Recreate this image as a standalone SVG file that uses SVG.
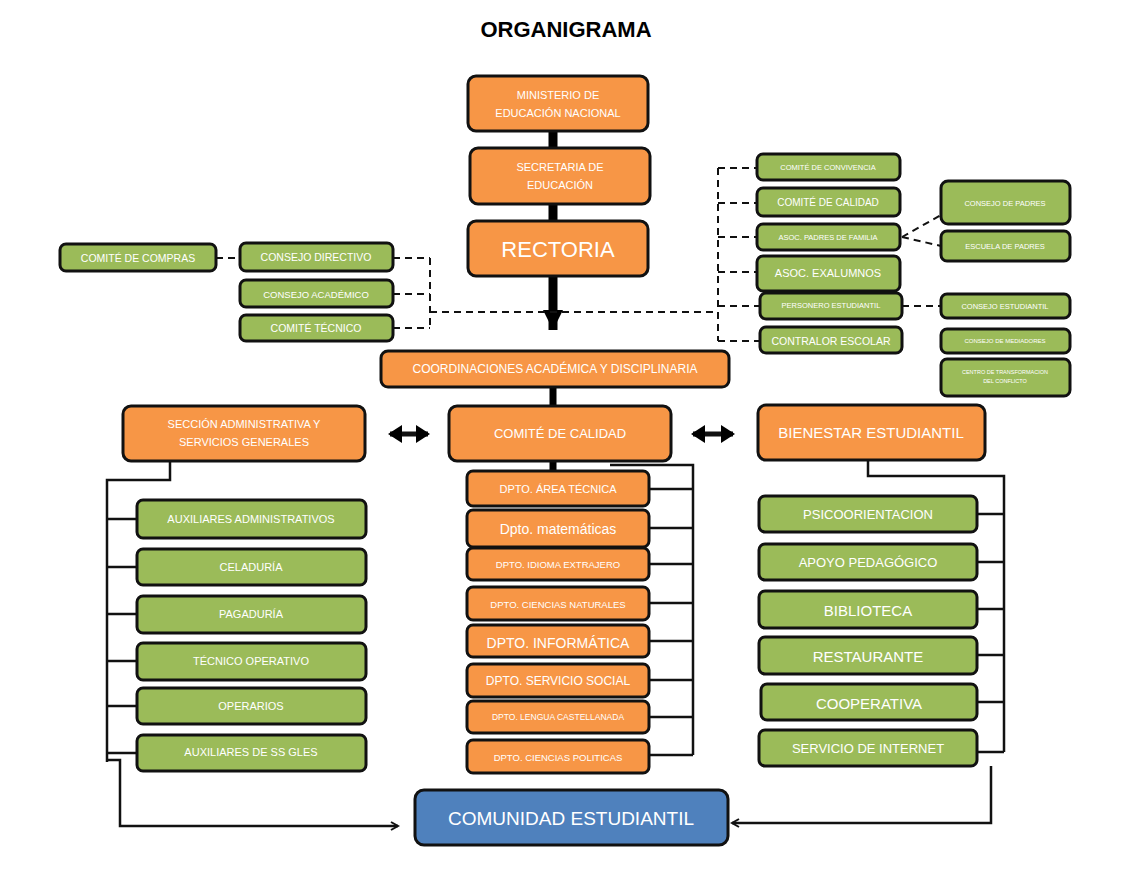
<svg xmlns="http://www.w3.org/2000/svg" width="1122" height="875" viewBox="0 0 1122 875">
<defs>
<style>
.o{fill:#f79646;stroke:#111;stroke-width:3}
.g{fill:#9bbb59;stroke:#111;stroke-width:3}
.b{fill:#4f81bd;stroke:#111;stroke-width:3}
text{font-family:"Liberation Sans",Arial,sans-serif;fill:#fff;text-anchor:middle;dominant-baseline:central}
.l{stroke:#111;stroke-width:2.5;fill:none}
.d{stroke:#111;stroke-width:2;fill:none;stroke-dasharray:7 5}
.t{stroke:#000;stroke-width:9;fill:none}
</style>
<marker id="ah" markerWidth="10" markerHeight="10" refX="8" refY="5" orient="auto" markerUnits="userSpaceOnUse"><path d="M1,1 L8,5 L1,9" fill="none" stroke="#111" stroke-width="2"/></marker>
<marker id="big" markerWidth="24" markerHeight="20" refX="20" refY="10" orient="auto" markerUnits="userSpaceOnUse"><path d="M0,0 L20,10 L0,20 Z" fill="#000"/></marker>
<marker id="dh" markerWidth="14" markerHeight="18" refX="12" refY="9" orient="auto-start-reverse" markerUnits="userSpaceOnUse"><path d="M0,0 L14,9 L0,18 Z" fill="#000"/></marker>
</defs>
<rect width="1122" height="875" fill="#fff"/>
<text x="566" y="29" style="fill:#000;font-weight:bold;font-size:22px">ORGANIGRAMA</text>

<g id="connectors">
<path class="t" d="M553,131 V148 M553,204 V221"/>
<path class="t" d="M553,276 V330" marker-end="url(#big)"/>
<path class="t" d="M553,387 V406 M553,461 V471" style="stroke-width:7"/>
<path class="l" d="M390,434 H428" style="stroke-width:5" marker-start="url(#dh)" marker-end="url(#dh)"/>
<path class="l" d="M693,434 H733" style="stroke-width:5" marker-start="url(#dh)" marker-end="url(#dh)"/>
<path class="d" d="M216,258 H240 M393,258 H430 M393,294 H430 M393,328 H430 M430,258 V328 M430,312 H718"/>
<path class="d" d="M718,168 V341 M718,168 H757 M718,203 H757 M718,237 H757 M718,272 H757 M718,306 H760 M718,341 H760"/>
<path class="d" d="M902,237 L941,215 M902,237 L941,246 M902,306 H941"/>
<path class="l" d="M170,461 V480 H107 V762 M107,519 H137 M107,567 H137 M107,614 H137 M107,661 H137 M107,706 H137 M107,753 H137 M107,760 H120 V826 H398" marker-end="url(#ah)"/>
<path class="l" d="M610,465 H693 V755 M649,489 H693 M649,528 H693 M649,564 H693 M649,603 H693 M649,641 H693 M649,680 H693 M649,717 H693 M649,755 H693"/>
<path class="l" d="M868,460 V476 H1004 V752 M977,514 H1004 M977,562 H1004 M977,609 H1004 M977,655 H1004 M977,702 H1004 M977,752 H1004 M991,766 V823 H732" marker-end="url(#ah)"/>
</g>

<g id="ministerio"><rect class="o" x="468" y="76" width="180" height="55" rx="8"/><text x="558" y="95" font-size="11">MINISTERIO DE</text><text x="558" y="113" font-size="11">EDUCACIÓN NACIONAL</text></g>
<g id="secretaria"><rect class="o" x="470" y="148" width="180" height="56" rx="8"/><text x="560" y="167" font-size="11">SECRETARIA DE</text><text x="560" y="185" font-size="11">EDUCACIÓN</text></g>
<g id="rectoria"><rect class="o" x="468" y="221" width="180" height="55" rx="8"/><text x="558" y="249" font-size="22">RECTORIA</text></g>
<g id="coordinaciones"><rect class="o" x="381" y="351" width="348" height="36" rx="7"/><text x="555" y="369" font-size="12">COORDINACIONES ACADÉMICA Y DISCIPLINARIA</text></g>
<g id="comite-calidad-c"><rect class="o" x="449" y="406" width="222" height="55" rx="8"/><text x="560" y="433" font-size="13">COMITÉ DE CALIDAD</text></g>
<g id="seccion"><rect class="o" x="123" y="406" width="242" height="55" rx="8"/><text x="244" y="424" font-size="11">SECCIÓN ADMINISTRATIVA Y</text><text x="244" y="442" font-size="11">SERVICIOS GENERALES</text></g>
<g id="bienestar"><rect class="o" x="758" y="405" width="227" height="55" rx="8"/><text x="871" y="432" font-size="15">BIENESTAR ESTUDIANTIL</text></g>

<g id="comite-compras"><rect class="g" x="60" y="244" width="156" height="27" rx="6"/><text x="138" y="258" font-size="10.5">COMITÉ DE COMPRAS</text></g>
<g id="consejo-directivo"><rect class="g" x="240" y="243" width="153" height="28" rx="6"/><text x="316" y="257" font-size="10.5">CONSEJO DIRECTIVO</text></g>
<g id="consejo-academico"><rect class="g" x="240" y="280" width="153" height="27" rx="6"/><text x="316" y="294" font-size="9.5">CONSEJO ACADÉMICO</text></g>
<g id="comite-tecnico"><rect class="g" x="240" y="315" width="153" height="26" rx="6"/><text x="316" y="328" font-size="10.5">COMITÉ TÉCNICO</text></g>

<g id="convivencia"><rect class="g" x="757" y="154" width="143" height="26" rx="6"/><text x="828" y="167" font-size="7.5">COMITÉ DE CONVIVENCIA</text></g>
<g id="comite-calidad-r"><rect class="g" x="757" y="188" width="143" height="28" rx="6"/><text x="828" y="202" font-size="10">COMITÉ DE CALIDAD</text></g>
<g id="asoc-padres"><rect class="g" x="757" y="224" width="143" height="26" rx="6"/><text x="828" y="237" font-size="7.5">ASOC. PADRES DE FAMILIA</text></g>
<g id="exalumnos"><rect class="g" x="757" y="256" width="143" height="35" rx="6"/><text x="828" y="273" font-size="11">ASOC. EXALUMNOS</text></g>
<g id="personero"><rect class="g" x="760" y="293" width="142" height="26" rx="6"/><text x="831" y="305" font-size="7.5">PERSONERO  ESTUDIANTIL</text></g>
<g id="contralor"><rect class="g" x="760" y="327" width="142" height="26" rx="6"/><text x="831" y="341" font-size="10.5">CONTRALOR ESCOLAR</text></g>
<g id="consejo-padres"><rect class="g" x="941" y="181" width="129" height="43" rx="7"/><text x="1005" y="203" font-size="7.5">CONSEJO DE PADRES</text></g>
<g id="escuela-padres"><rect class="g" x="941" y="231" width="129" height="30" rx="6"/><text x="1005" y="246" font-size="7.5">ESCUELA DE PADRES</text></g>
<g id="consejo-estudiantil"><rect class="g" x="941" y="294" width="129" height="24" rx="6"/><text x="1005" y="306" font-size="7.5">CONSEJO ESTUDIANTIL</text></g>
<g id="mediadores"><rect class="g" x="941" y="329" width="129" height="24" rx="6"/><text x="1005" y="341" font-size="6">CONSEJO DE MEDIADORES</text></g>
<g id="centro"><rect class="g" x="941" y="359" width="129" height="37" rx="6"/><text x="1005" y="372" font-size="5.5">CENTRO DE TRANSFORMACION</text><text x="1005" y="381" font-size="5.5">DEL CONFLICTO</text></g>

<g id="aux-admin"><rect class="g" x="137" y="500" width="229" height="38" rx="6"/><text x="251" y="519" font-size="11">AUXILIARES ADMINISTRATIVOS</text></g>
<g id="celaduria"><rect class="g" x="137" y="549" width="229" height="36" rx="6"/><text x="251" y="567" font-size="11">CELADURÍA</text></g>
<g id="pagaduria"><rect class="g" x="137" y="596" width="229" height="37" rx="6"/><text x="251" y="614" font-size="11">PAGADURÍA</text></g>
<g id="tecnico-op"><rect class="g" x="137" y="643" width="229" height="37" rx="6"/><text x="251" y="661" font-size="11">TÉCNICO OPERATIVO</text></g>
<g id="operarios"><rect class="g" x="137" y="688" width="229" height="36" rx="6"/><text x="251" y="706" font-size="11">OPERARIOS</text></g>
<g id="aux-ss"><rect class="g" x="137" y="735" width="229" height="36" rx="6"/><text x="251" y="752" font-size="11">AUXILIARES DE SS GLES</text></g>

<g id="d1"><rect class="o" x="467" y="471" width="182" height="35" rx="6"/><text x="558" y="489" font-size="11">DPTO. ÁREA TÉCNICA</text></g>
<g id="d2"><rect class="o" x="467" y="510" width="182" height="37" rx="6"/><text x="558" y="529" font-size="14">Dpto. matemáticas</text></g>
<g id="d3"><rect class="o" x="467" y="548" width="182" height="32" rx="6"/><text x="558" y="564" font-size="9.5">DPTO. IDIOMA EXTRAJERO</text></g>
<g id="d4"><rect class="o" x="467" y="587" width="182" height="33" rx="6"/><text x="558" y="604" font-size="9.5">DPTO. CIENCIAS NATURALES</text></g>
<g id="d5"><rect class="o" x="467" y="625" width="182" height="32" rx="6"/><text x="558" y="643" font-size="14">DPTO. INFORMÁTICA</text></g>
<g id="d6"><rect class="o" x="467" y="664" width="182" height="33" rx="6"/><text x="558" y="681" font-size="12">DPTO. SERVICIO SOCIAL</text></g>
<g id="d7"><rect class="o" x="467" y="701" width="182" height="32" rx="6"/><text x="558" y="717" font-size="8.5">DPTO. LENGUA CASTELLANADA</text></g>
<g id="d8"><rect class="o" x="467" y="740" width="182" height="33" rx="6"/><text x="558" y="757" font-size="9.5">DPTO. CIENCIAS POLITICAS</text></g>

<g id="psico"><rect class="g" x="759" y="496" width="218" height="36" rx="6"/><text x="868" y="514" font-size="13">PSICOORIENTACION</text></g>
<g id="apoyo"><rect class="g" x="759" y="544" width="218" height="36" rx="6"/><text x="868" y="562" font-size="13">APOYO PEDAGÓGICO</text></g>
<g id="biblioteca"><rect class="g" x="759" y="591" width="218" height="37" rx="6"/><text x="868" y="610" font-size="15">BIBLIOTECA</text></g>
<g id="restaurante"><rect class="g" x="759" y="637" width="218" height="37" rx="6"/><text x="868" y="656" font-size="15">RESTAURANTE</text></g>
<g id="cooperativa"><rect class="g" x="761" y="684" width="216" height="36" rx="6"/><text x="869" y="703" font-size="15">COOPERATIVA</text></g>
<g id="internet"><rect class="g" x="759" y="730" width="218" height="36" rx="6"/><text x="868" y="748" font-size="13">SERVICIO DE INTERNET</text></g>

<g id="comunidad"><rect class="b" x="415" y="790" width="313" height="55" rx="9"/><text x="571" y="818" font-size="19">COMUNIDAD ESTUDIANTIL</text></g>
</svg>
